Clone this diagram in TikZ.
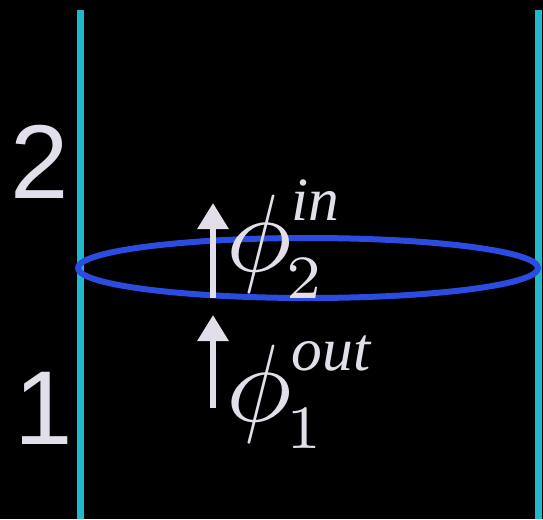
\documentclass[tikz,border=0pt]{standalone}
\usepackage{amsmath}
\usepackage{graphicx}
\usepackage{fontspec}
\setmainfont{Liberation Serif}
\setsansfont{Liberation Sans}
\usepackage{tikz}
\usetikzlibrary{positioning,arrows.meta}
\definecolor{cBack}{HTML}{000000}
\definecolor{cWall}{HTML}{22B8CC}
\definecolor{cLoop}{HTML}{2A4CE0}
\definecolor{cInk}{HTML}{E2DEEA}
\newcommand{\fluxsup}[1]{\raisebox{1pt}{\scalebox{0.8}{$\scriptstyle\text{\itshape #1}$}}}
\newcommand{\fluxsub}[1]{\mkern-1mu\scalebox{0.8}{$\scriptstyle #1$}}
\tikzset{
  wall/.style={draw=cWall,line width=7pt},
  loop/.style={draw=cLoop,line width=6pt},
  region/.style={text=cInk,font=\sffamily\fontsize{105}{105}\selectfont,inner sep=0pt},
  flux/.style={text=cInk,inner sep=0pt,anchor=base west},
  uparr/.style={-{Triangle[width=30pt,length=26pt]},draw=cInk,line width=6pt}}

\begin{document}
\begin{tikzpicture}[x=1pt,y=-1pt]
\fill[cBack] (0,0) rectangle (543,519);
\useasboundingbox (0,0) rectangle (543,519);
\draw[wall] (80,10) -- (80,519);
\draw[wall] (538,10) -- (538,519);
\draw[loop] (308,268) ellipse [x radius=230, y radius=30];
\node[region] (two) at (40,162) {2};
\node[region] (one) at (44,408) {1};
\node[flux] (phitwo) at (226,271) {\scalebox{11}{$\phi^{\fluxsup{in}}_{\fluxsub{2}}$}};
\node[flux] (phione) at (226,421) {\scalebox{11}{$\phi^{\fluxsup{out}}_{\fluxsub{1}}$}};
\coordinate (up2s) at (213,298);
\coordinate (up2e) at (213,203);
\coordinate (up1s) at (213,408);
\coordinate (up1e) at (213,315);
\draw[uparr] (up2s) -- (up2e);
\draw[uparr] (up1s) -- (up1e);
\end{tikzpicture}
\end{document}
